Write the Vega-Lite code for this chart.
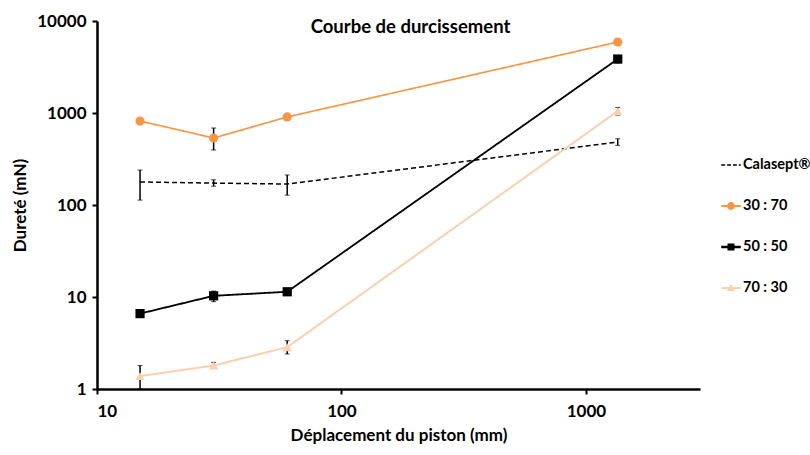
{
  "$schema": "https://vega.github.io/schema/vega-lite/v6.json",
  "width": 603,
  "height": 368,
  "autosize": {"type": "none"},
  "padding": {"left": 97, "top": 21, "right": 110, "bottom": 66},
  "background": "white",
  "config": {
    "view": {"stroke": null},
    "font": "Lato",
    "axis": {"grid": false, "domainColor": "black", "domainWidth": 2.5, "tickColor": "black", "tickWidth": 2, "tickSize": 5, "labelFont": "Lato", "labelFontWeight": "bold", "labelFontSize": 17, "labelColor": "black", "titleFont": "Lato", "titleFontWeight": "bold", "titleFontSize": 17, "titleColor": "black"},
    "legend": {"padding": 0}
  },
  "title": {"text": "Courbe de durcissement", "fontSize": 18.5, "font": "Lato", "fontWeight": "bold", "color": "black", "anchor": "middle", "offset": -24, "dx": 12},
  "data": {"values": [
    {"serie": "Calasept®", "x": 15, "y": 178, "lo": 113, "hi": 240},
    {"serie": "Calasept®", "x": 30, "y": 173, "lo": 160, "hi": 188},
    {"serie": "Calasept®", "x": 60, "y": 169, "lo": 128, "hi": 212},
    {"serie": "Calasept®", "x": 1350, "y": 484, "lo": 445, "hi": 525},
    {"serie": "30 : 70", "x": 15, "y": 818, "lo": 790, "hi": 850},
    {"serie": "30 : 70", "x": 30, "y": 535, "lo": 396, "hi": 687},
    {"serie": "30 : 70", "x": 60, "y": 906, "lo": 860, "hi": 950},
    {"serie": "30 : 70", "x": 1350, "y": 5910, "lo": 5600, "hi": 6200},
    {"serie": "50 : 50", "x": 15, "y": 6.6, "lo": 6.3, "hi": 6.9},
    {"serie": "50 : 50", "x": 30, "y": 10.3, "lo": 8.9, "hi": 11.6},
    {"serie": "50 : 50", "x": 60, "y": 11.4, "lo": 10.5, "hi": 12.3},
    {"serie": "50 : 50", "x": 1350, "y": 3860, "lo": 3500, "hi": 4200},
    {"serie": "70 : 30", "x": 15, "y": 1.38, "lo": 1.0, "hi": 1.8},
    {"serie": "70 : 30", "x": 30, "y": 1.8, "lo": 1.7, "hi": 1.95},
    {"serie": "70 : 30", "x": 60, "y": 2.85, "lo": 2.4, "hi": 3.35},
    {"serie": "70 : 30", "x": 1350, "y": 1050, "lo": 950, "hi": 1150}
  ]},
  "resolve": {"scale": {"color": "independent", "shape": "independent", "strokeDash": "independent", "strokeWidth": "independent"}},
  "layer": [
    {
      "mark": {"type": "line", "clip": false},
      "encoding": {
        "x": {"field": "x", "type": "quantitative", "scale": {"type": "log", "domain": [10, 2930], "nice": false}, "title": "Déplacement du piston (mm)", "axis": {"values": [10, 100, 1000], "format": "d", "labelPadding": 9, "titlePadding": 8}},
        "y": {"field": "y", "type": "quantitative", "scale": {"type": "log", "domain": [1, 10000], "nice": false}, "title": "Dureté (mN)", "axis": {"values": [1, 10, 100, 1000, 10000], "format": "d", "labelPadding": 6, "titlePadding": 7}},
        "color": {"field": "serie", "type": "nominal", "legend": null, "scale": {"domain": ["Calasept®", "30 : 70", "50 : 50", "70 : 30"], "range": ["#000000", "#F79646", "#000000", "#FBD0AD"]}},
        "strokeDash": {"field": "serie", "type": "nominal", "legend": null, "scale": {"domain": ["Calasept®", "30 : 70", "50 : 50", "70 : 30"], "range": [[5, 3], [1, 0], [1, 0], [1, 0]]}},
        "strokeWidth": {"field": "serie", "type": "nominal", "legend": null, "scale": {"domain": ["Calasept®", "30 : 70", "50 : 50", "70 : 30"], "range": [1.5, 2, 2.4, 2]}}
      }
    },
    {
      "mark": {"type": "errorbar", "ticks": {"size": 5, "color": "black", "strokeWidth": 1.5}, "rule": {"color": "black", "strokeWidth": 1.5}},
      "encoding": {
        "x": {"field": "x", "type": "quantitative", "title": "Déplacement du piston (mm)"},
        "y": {"field": "lo", "type": "quantitative", "title": "Dureté (mN)"},
        "y2": {"field": "hi"}
      }
    },
    {
      "transform": [{"filter": "datum.serie !== 'Calasept®'"}],
      "mark": {"type": "point", "filled": true, "opacity": 1, "clip": false, "size": 85},
      "encoding": {
        "x": {"field": "x", "type": "quantitative", "title": "Déplacement du piston (mm)"},
        "y": {"field": "y", "type": "quantitative", "title": "Dureté (mN)"},
        "color": {"field": "serie", "type": "nominal", "legend": null, "scale": {"domain": ["30 : 70", "50 : 50", "70 : 30"], "range": ["#F79646", "#000000", "#FBD0AD"]}},
        "shape": {"field": "serie", "type": "nominal", "legend": null, "scale": {"domain": ["30 : 70", "50 : 50", "70 : 30"], "range": ["circle", "square", "triangle-up"]}}
      }
    },
    {
      "data": {"values": []},
      "mark": {"type": "point", "filled": true, "opacity": 1, "size": 380},
      "encoding": {
        "color": {"field": "serie", "type": "nominal", "scale": {"domain": ["Calasept®", "30 : 70", "50 : 50", "70 : 30"], "range": ["#000000", "#F79646", "#000000", "#FBD0AD"]}, "legend": {"title": null, "orient": "none", "legendX": 624, "legendY": 134, "labelFont": "Lato", "labelFontWeight": "bold", "labelFontSize": 14.5, "labelColor": "black", "labelOffset": 2, "rowPadding": 24, "symbolSize": 380, "symbolStrokeWidth": 0}},
        "shape": {"field": "serie", "type": "nominal", "scale": {"domain": ["Calasept®", "30 : 70", "50 : 50", "70 : 30"], "range": [
          "M-1,-0.075H-0.6V0.075H-1Z M-0.4,-0.075H0V0.075H-0.4Z M0.2,-0.075H0.6V0.075H0.2Z M0.8,-0.075H1V0.075H0.8Z",
          "M-1,-0.11H1V0.11H-1Z M0.4,0A0.4,0.4 0 1,1 -0.4,0A0.4,0.4 0 1,1 0.4,0Z",
          "M-1,-0.14H1V0.14H-1Z M-0.36,-0.36H0.36V0.36H-0.36Z",
          "M-1,-0.11H1V0.11H-1Z M0,-0.42L0.42,0.32H-0.42Z"
        ]}, "legend": {"title": null, "orient": "none", "legendX": 624, "legendY": 134, "labelFont": "Lato", "labelFontWeight": "bold", "labelFontSize": 14.5, "labelColor": "black", "labelOffset": 2, "rowPadding": 24, "symbolSize": 380, "symbolStrokeWidth": 0}}
      }
    }
  ]
}
